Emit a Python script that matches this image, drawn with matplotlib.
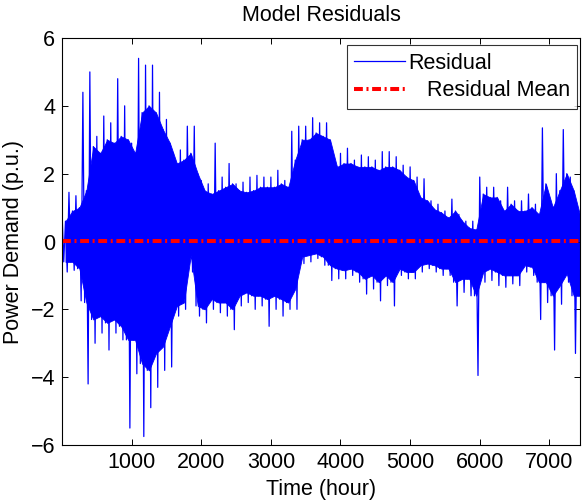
import numpy as np
import matplotlib
matplotlib.use("Agg")
import matplotlib.pyplot as plt

plt.rcParams['font.family'] = ['Liberation Sans', 'DejaVu Sans']

# Time bins (hours) of 100 h each; envelope values
bin_start_hours = list(range(0, 7500, 100))
bin_offsets = [0, 25, 50, 75]

# per-bin extreme values (spikes) and limits of the dense core band
peak_hi = [0.9, 1.45, 1.35, 4.4, 5.0, 3.1, 3.7, 3.5, 4.8, 4.0,
           2.9, 5.4, 5.2, 5.2, 4.4, 3.6, 2.6, 2.7, 3.4, 3.4,
           1.8, 1.7, 2.9, 1.9, 2.3, 1.7, 1.75, 1.9, 1.95, 1.9,
           1.9, 2.1, 1.8, 3.25, 3.4, 3.4, 3.65, 3.5, 3.5, 2.5,
           2.6, 2.75, 2.4, 2.55, 2.5, 2.4, 2.65, 2.65, 2.5, 2.25,
           2.2, 1.9, 1.85, 1.2, 1.1, 0.9, 1.25, 0.8, 0.6, 0.6,
           1.9, 1.6, 1.6, 1.2, 1.6, 1.2, 1.2, 1.4, 1.1, 3.35,
           1.3, 2.0, 3.3, 1.9, 1.0]
band_hi = [0.6, 0.9, 1.0, 1.5, 2.8, 2.6, 3.0, 2.9, 3.1, 3.0,
           2.6, 3.8, 4.0, 3.8, 3.3, 2.9, 2.3, 2.4, 2.6, 2.0,
           1.5, 1.4, 1.5, 1.6, 1.7, 1.5, 1.45, 1.5, 1.6, 1.6,
           1.6, 1.7, 1.6, 2.4, 3.0, 3.0, 3.2, 3.1, 3.0, 2.2,
           2.3, 2.3, 2.2, 2.2, 2.2, 2.1, 2.2, 2.2, 2.1, 1.9,
           1.8, 1.3, 1.2, 0.95, 0.85, 0.7, 0.9, 0.6, 0.4, 0.35,
           1.4, 1.3, 1.3, 0.9, 1.1, 0.9, 0.9, 1.0, 0.8, 1.7,
           1.0, 1.5, 2.0, 1.5, 0.7]
band_lo = [-0.6, -0.6, -0.8, -1.8, -2.3, -2.2, -2.4, -2.3, -2.5, -2.9,
           -2.9, -3.6, -3.8, -3.3, -3.1, -2.5, -1.9, -1.8, -0.4, -1.9,
           -2.0, -1.7, -1.8, -1.8, -2.0, -1.6, -1.5, -1.6, -1.6, -1.7,
           -1.6, -1.7, -1.8, -1.4, -0.45, -0.4, -0.35, -0.45, -0.7, -0.8,
           -0.85, -0.8, -0.9, -1.1, -1.0, -1.2, -1.0, -1.2, -0.8, -0.9,
           -0.9, -0.7, -0.65, -0.7, -0.8, -0.8, -1.2, -1.1, -1.1, -1.6,
           -0.9, -0.8, -0.9, -1.0, -1.0, -1.0, -0.7, -0.75, -1.2, -1.2,
           -1.6, -1.3, -0.95, -1.6, -1.6]
peak_lo = [-0.9, -0.85, -1.75, -4.2, -3.0, -2.7, -3.2, -2.7, -2.9, -5.5,
           -3.9, -5.75, -4.9, -4.3, -3.8, -3.7, -2.2, -2.0, -0.9, -2.2,
           -2.4, -2.0, -2.1, -2.2, -2.6, -1.9, -1.8, -2.0, -1.9, -2.5,
           -2.0, -2.2, -2.0, -2.0, -0.65, -0.6, -0.5, -0.7, -1.15, -1.1,
           -1.1, -1.0, -1.2, -1.55, -1.4, -1.75, -1.3, -1.9, -1.0, -1.1,
           -1.1, -0.9, -0.8, -0.9, -1.0, -1.0, -1.9, -1.5, -1.6, -3.95,
           -1.2, -1.15, -1.3, -1.35, -1.25, -1.3, -0.9, -1.0, -2.3, -1.8,
           -3.2, -1.85, -1.2, -3.3, -2.9]
residual_mean = 0.02
x_end_hours = 7440

x_ticks = [1000, 2000, 3000, 4000, 5000, 6000, 7000]
y_ticks = [-6, -4, -2, 0, 2, 4, 6]

# Build the series
starts = np.array(bin_start_hours, dtype=float)
offs = np.array(bin_offsets, dtype=float)
hours = (starts[:, None] + offs[None, :]).ravel()
values = np.column_stack([peak_hi, band_lo, band_hi, peak_lo]).ravel()
band_x = starts + offs[2]

blue = (0, 0, 1)
red = (1, 0, 0)

fig = plt.figure(figsize=(5.82, 5.04), dpi=100)
ax = fig.add_axes([62 / 582, 1 - 445 / 504, (580 - 62) / 582, (445 - 38) / 504])

ax.fill_between(band_x, band_lo, band_hi, color=blue, lw=0.6, edgecolor=blue)
ax.plot(hours, values, color=blue, lw=0.9, label='Residual')
ax.plot([0, x_end_hours], [residual_mean, residual_mean], color=red, lw=2.9,
        linestyle=(0, (2.2, 0.9, 0.5, 0.9)), label='   Residual Mean')

ax.set_xlim(0, x_end_hours)
ax.set_ylim(-6, 6)
ax.set_xticks(x_ticks)
ax.set_yticks(y_ticks)
ax.tick_params(direction='in', top=True, right=True, length=4.5, width=0.7,
               labelsize=15.5, pad=5)
for s in ax.spines.values():
    s.set_linewidth(0.8)

ax.set_title('Model Residuals', fontsize=15.5, pad=12)
ax.set_xlabel('Time (hour)', fontsize=15.5, labelpad=4)
ax.set_ylabel('Power Demand (p.u.)', fontsize=15.5, labelpad=5)

leg = ax.legend(loc='upper right', bbox_to_anchor=(0.9948, 0.982), fontsize=15.5,
                frameon=True, fancybox=False, handlelength=2.37, handletextpad=0.15,
                borderpad=0.35, labelspacing=0.3, borderaxespad=0)
leg.get_frame().set_edgecolor('black')
leg.get_frame().set_linewidth(0.8)

fig.savefig('out.png', dpi=100)
